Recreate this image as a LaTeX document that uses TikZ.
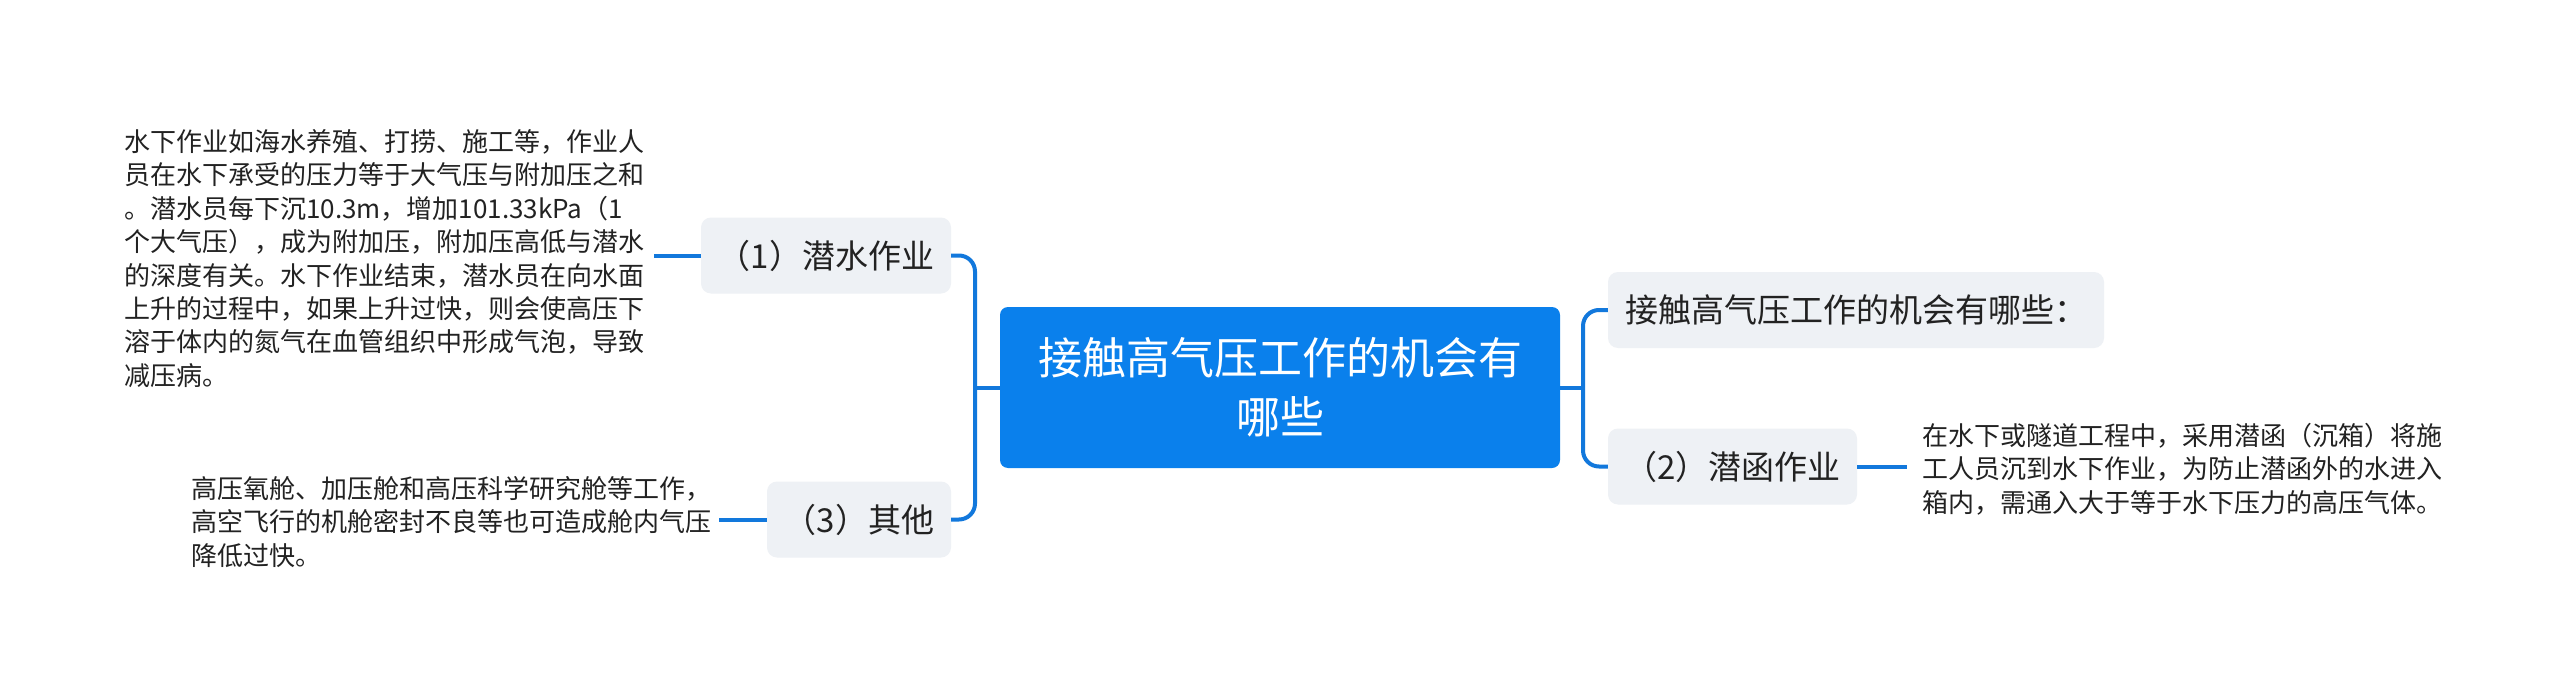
\documentclass[tikz,border=0pt]{standalone}
\usepackage{fontspec}
\setmainfont{Noto Sans CJK SC}
\definecolor{mblue}{RGB}{10,128,236}
\definecolor{lblue}{RGB}{18,120,220}
\definecolor{boxgray}{RGB}{238,241,245}
\definecolor{txt}{RGB}{34,34,34}
\tikzset{
  root/.style={rectangle, rounded corners=8pt, fill=mblue, text=white, align=center,
    minimum width=560pt, minimum height=161pt, inner sep=0pt,
    font=\fontsize{44pt}{59pt}\selectfont},
  topic/.style={rectangle, rounded corners=10pt, fill=boxgray, text=txt, inner sep=0pt,
    minimum height=76pt, font=\fontsize{33pt}{40pt}\selectfont},
  note/.style={text=txt, align=left, inner ysep=0pt,
    font=\fontsize{26pt}{33.4pt}\selectfont},
  link/.style={draw=lblue, line width=4pt, rounded corners=16pt}
}
\begin{document}
\begin{tikzpicture}[x=1pt,y=-1pt]
\fill[white] (0,0) rectangle (2560,693);
\useasboundingbox (0,0) rectangle (2560,693);

\node[root] (root) at (1280,387.5) {接触高气压工作的机会有\\哪些};

\node[topic, minimum width=250pt] (t1) at (826,255.5) {（1）潜水作业};
\node[topic, minimum width=184pt] (t3) at (859,519.5) {（3）其他};
\node[topic, minimum width=496pt] (t0) at (1856,310) {接触高气压工作的机会有哪些：};
\node[topic, minimum width=249pt] (t2) at (1732.5,466.5) {（2）潜函作业};

\node[note, inner xsep=10pt, anchor=west] (n1) at (114,258.5) {水下作业如海水养殖、打捞、施工等，作业人\\员在水下承受的压力等于大气压与附加压之和\\。潜水员每下沉10.3m，增加101.33kPa（1\\个大气压），成为附加压，附加压高低与潜水\\的深度有关。水下作业结束，潜水员在向水面\\上升的过程中，如果上升过快，则会使高压下\\溶于体内的氮气在血管组织中形成气泡，导致\\减压病。};
\node[note, inner xsep=8pt, anchor=west] (n3) at (183,522) {高压氧舱、加压舱和高压科学研究舱等工作，\\高空飞行的机舱密封不良等也可造成舱内气压\\降低过快。};
\node[note, inner xsep=15pt, anchor=west] (n2) at (1907,469) {在水下或隧道工程中，采用潜函（沉箱）将施\\工人员沉到水下作业，为防止潜函外的水进入\\箱内，需通入大于等于水下压力的高压气体。};

\coordinate (jl) at (975,387.5);
\coordinate (jr) at (1583,387.5);

\draw[link] (root.west) -- (jl);
\draw[link] (t1.east) -| (jl) |- (t3.east);
\draw[link] (root.east) -- (jr);
\draw[link] (t0.west) -| (jr) |- (t2.west);

\draw[link] (t1.west) -- (t1.west -| n1.east);
\draw[link] (t3.west) -- (t3.west -| n3.east);
\draw[link] (t2.east) -- (t2.east -| n2.west);
\end{tikzpicture}
\end{document}
